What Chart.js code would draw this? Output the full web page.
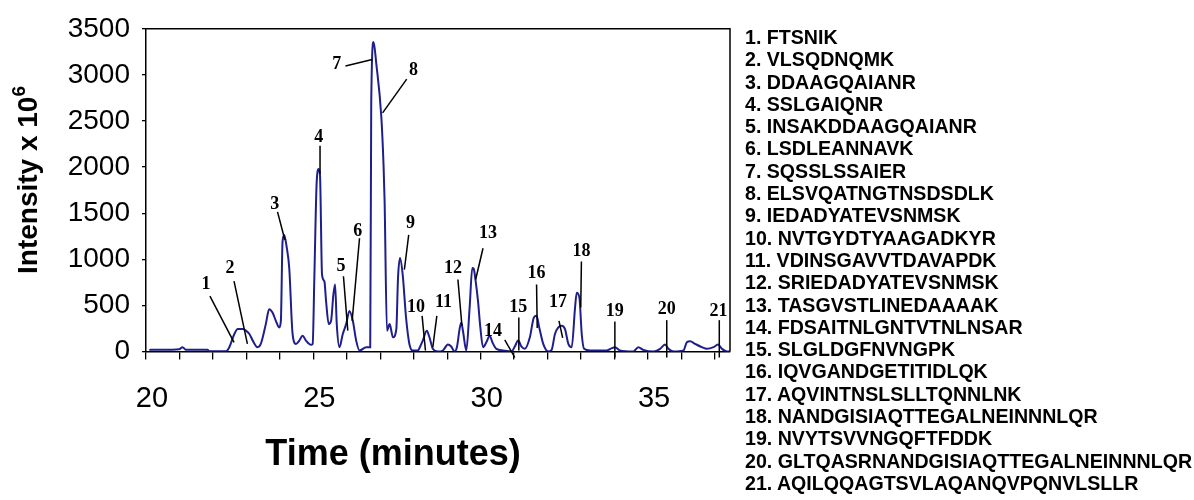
<!DOCTYPE html>
<html>
<head>
<meta charset="utf-8">
<script src="https://cdn.jsdelivr.net/npm/chart.js@4.4.1/dist/chart.umd.min.js"></script>
<style>
  body { margin: 0; background: #fff; }
  #wrap { position: relative; width: 1194px; height: 500px; }
  #wrap canvas { position: absolute; left: 0; top: 0; }
  .ytitle {
    position: absolute; left: 28px; top: 180px;
    transform: translate(-50%, -50%) rotate(-90deg);
    font: bold 28px "Liberation Sans", Arial, sans-serif; white-space: nowrap;
  }
  .ytitle sup { font-size: 19px; vertical-align: 12px; line-height: 0; }
  .xtitle {
    position: absolute; left: 393px; top: 453px;
    transform: translate(-50%, -50%);
    font: bold 36px "Liberation Sans", Arial, sans-serif; white-space: nowrap;
  }
  #peptides {
    position: absolute; left: 745px; top: 26px; margin: 0; padding: 0;
    list-style: none; font: bold 19.6px/22.3px "Liberation Sans", Arial, sans-serif;
    white-space: nowrap;
  }
</style>
</head>
<body>
<div id="wrap">
  <canvas id="chromChart"></canvas>
  <div class="ytitle">Intensity x 10<sup>6</sup></div>
  <div class="xtitle">Time (minutes)</div>
  <ul id="peptides"></ul>
</div>
<script>
// retention time (min) and intensity (x 10^6)
const times = [
  20.1, 20.14, 20.5, 20.99, 21.09, 21.19, 21.84, 21.89, 22.39, 22.49,
  22.64, 22.74, 22.89, 22.99, 23.09, 23.19, 23.33, 23.43, 23.58, 23.68,
  23.78, 23.88, 23.98, 24.03, 24.08, 24.13, 24.2, 24.28, 24.38, 24.48,
  24.58, 24.68, 24.78, 24.93, 24.98, 25.03, 25.1, 25.16, 25.2, 25.26,
  25.33, 25.38, 25.46, 25.53, 25.6, 25.65, 25.7, 25.78, 25.88, 25.98,
  26.08, 26.18, 26.28, 26.38, 26.58, 26.7, 26.73, 26.8, 26.88, 27.03,
  27.1, 27.13, 27.2, 27.28, 27.38, 27.48, 27.53, 27.59, 27.67, 27.77,
  27.87, 27.97, 28.12, 28.2, 28.27, 28.39, 28.47, 28.57, 28.72, 28.87,
  29.02, 29.12, 29.22, 29.29, 29.37, 29.42, 29.47, 29.57, 29.67, 29.75,
  29.79, 29.85, 29.92, 29.99, 30.07, 30.17, 30.27, 30.35, 30.47, 30.67,
  30.92, 31.02, 31.12, 31.22, 31.32, 31.47, 31.59, 31.67, 31.75, 31.87,
  32.02, 32.12, 32.22, 32.32, 32.42, 32.52, 32.62, 32.72, 32.82, 32.87,
  32.95, 33.02, 33.09, 33.27, 33.77, 33.92, 34.01, 34.16, 34.56, 34.71,
  34.86, 35.16, 35.36, 35.51, 35.61, 35.76, 36.06, 36.16, 36.26, 36.41,
  36.61, 36.76, 36.96, 37.09, 37.21, 37.36, 37.45
];
const intensity = [
  15, 18, 18, 25, 47, 20, 18, 3, 3, 47,
  190, 243, 243, 225, 190, 118, 47, 82, 297, 458,
  422, 333, 261, 333, 1192, 1264, 1140, 906, 190, 82,
  118, 172, 118, 72, 82, 798, 1837, 1980, 1908, 834,
  762, 548, 297, 333, 619, 727, 297, 47, 190, 297,
  440, 333, 118, 11, 47, 47, 2696, 3358, 3125, 2553,
  2000, 1622, 225, 297, 154, 243, 798, 1013, 834, 369,
  82, 11, 11, 60, 118, 225, 154, 29, 0, 11,
  75, 54, 0, 47, 243, 315, 225, 11, 476, 906,
  899, 763, 548, 261, 47, 100, 172, 100, 29, 11,
  0, 54, 118, 54, 29, 154, 369, 387, 261, 82,
  0, 18, 190, 261, 279, 243, 82, 47, 476, 637,
  584, 190, 29, 11, 11, 36, 47, 11, 0, 47,
  18, 0, 29, 75, 29, 0, 11, 100, 111, 82,
  47, 29, 47, 75, 29, 0, 0
];

const yTicks = [0, 500, 1000, 1500, 2000, 2500, 3000, 3500];
const xLabelTicks = [20, 25, 30, 35];

const peptides = [
  'FTSNIK', 'VLSQDNQMK', 'DDAAGQAIANR', 'SSLGAIQNR', 'INSAKDDAAGQAIANR',
  'LSDLEANNAVK', 'SQSSLSSAIER', 'ELSVQATNGTNSDSDLK', 'IEDADYATEVSNMSK',
  'NVTGYDTYAAGADKYR', 'VDINSGAVVTDAVAPDK', 'SRIEDADYATEVSNMSK',
  'TASGVSTLINEDAAAAK', 'FDSAITNLGNTVTNLNSAR', 'SLGLDGFNVNGPK',
  'IQVGANDGETITIDLQK', 'AQVINTNSLSLLTQNNLNK', 'NANDGISIAQTTEGALNEINNNLQR',
  'NVYTSVVNGQFTFDDK', 'GLTQASRNANDGISIAQTTEGALNEINNNLQR',
  'AQILQQAGTSVLAQANQVPQNVLSLLR'
];

// peak number labels (data units) and their leader lines
const labelT = [21.79, 22.51, 23.85, 25.16, 25.83, 26.33, 25.70, 27.99, 27.90, 28.07, 28.89,
  29.17, 30.22, 30.37, 31.12, 31.67, 32.31, 33.01, 34.01, 35.56, 37.11];
const labelI = [727, 905, 1600, 2320, 924, 1300, 3118, 3053, 1389, 483, 529,
  905, 1281, 218, 476, 852, 537, 1085, 440, 459, 440];
const leadFromT = [21.91, 22.63, 23.93, 25.20, 25.90, 26.38, 25.96, 27.79, 27.85, 28.25, 28.69,
  29.32, 30.07, 30.72, 31.14, 31.67, 32.34, 33.01, 34.01, 35.56, 37.13];
const leadFromI = [601, 763, 1514, 2231, 816, 1228, 3096, 2954, 1264, 387, 387,
  781, 1120, 126, 368, 727, 333, 977, 325, 340, 340];
const leadToT = [22.63, 23.03, 24.15, 25.20, 26.03, 26.16, 26.76, 27.07, 27.72, 28.35, 28.57,
  29.44, 29.85, 31.02, 31.14, 31.69, 32.45, 32.99, 34.01, 35.56, 37.13];
const leadToI = [100, 83, 1210, 1926, 226, 333, 3168, 2588, 888, 11, 46,
  279, 781, 0, 11, 255, 147, 476, 0, 0, 0];

const list = document.getElementById('peptides');
peptides.forEach((p, i) => {
  const li = document.createElement('li');
  li.textContent = (i + 1) + '. ' + p;
  list.appendChild(li);
});

const frame = {
  id: 'frame',
  afterDatasetsDraw(chart) {
    const { ctx, chartArea: a } = chart;
    ctx.save();
    ctx.strokeStyle = '#000';
    ctx.lineWidth = 1.5;
    ctx.beginPath();
    ctx.moveTo(a.left, a.top);
    ctx.lineTo(a.right, a.top);
    ctx.lineTo(a.right, a.bottom);
    ctx.stroke();
    ctx.restore();
  }
};

const peakLabels = {
  id: 'peakLabels',
  afterDraw(chart) {
    const { ctx } = chart;
    const x = chart.scales.x, y = chart.scales.y;
    ctx.save();
    ctx.strokeStyle = '#000';
    ctx.lineWidth = 1.5;
    for (let i = 0; i < labelT.length; i++) {
      ctx.beginPath();
      ctx.moveTo(x.getPixelForValue(leadFromT[i]), y.getPixelForValue(leadFromI[i]));
      let toY = y.getPixelForValue(leadToI[i]);
      if (leadToI[i] === 0 && i >= 13 && i !== 14) toY += 6;
      ctx.lineTo(x.getPixelForValue(leadToT[i]), toY);
      ctx.stroke();
    }
    ctx.fillStyle = '#000';
    ctx.font = 'bold 18px "Liberation Serif", "Times New Roman", serif';
    ctx.textAlign = 'center';
    ctx.textBaseline = 'middle';
    for (let i = 0; i < labelT.length; i++) {
      ctx.fillText(String(i + 1), x.getPixelForValue(labelT[i]), y.getPixelForValue(labelI[i]));
    }
    ctx.restore();
  }
};

const tickFont = { family: '"Liberation Sans", Arial, sans-serif', size: 29 };

new Chart(document.getElementById('chromChart'), {
  type: 'line',
  data: {
    datasets: [{
      data: times.map((t, i) => ({ x: t, y: intensity[i] })),
      borderColor: '#1e1e8c',
      borderWidth: 2,
      pointRadius: 0,
      cubicInterpolationMode: 'monotone',
      fill: false
    }]
  },
  options: {
    responsive: true,
    maintainAspectRatio: false,
    animation: false,
    layout: { padding: { top: 25, right: 464, left: 0, bottom: 0 } },
    plugins: { legend: { display: false }, tooltip: { enabled: false } },
    scales: {
      x: {
        type: 'linear',
        min: 20,
        max: 37.45,
        afterFit(scale) { scale.height = 148.5; },
        afterBuildTicks(scale) {
          const t = [];
          for (let v = 20; v <= 37; v++) t.push({ value: v });
          scale.ticks = t;
        },
        ticks: {
          autoSkip: false,
          maxRotation: 0,
          color: '#000',
          font: tickFont,
          padding: 22,
          labelOffset: 6,
          callback: v => xLabelTicks.includes(v) ? String(v) : ''
        },
        grid: { drawOnChartArea: false, drawTicks: true, tickLength: 8, color: '#000', lineWidth: 1.3 },
        border: { display: true, color: '#000', width: 1.5 }
      },
      y: {
        min: 0,
        max: 3500,
        afterFit(scale) { scale.width = 146; },
        afterBuildTicks(scale) { scale.ticks = yTicks.map(v => ({ value: v })); },
        ticks: { color: '#000', font: { ...tickFont, size: 28 }, padding: 12, callback: v => String(v) },
        grid: { drawOnChartArea: false, drawTicks: true, tickLength: 4, color: '#000', lineWidth: 1.3 },
        border: { display: true, color: '#000', width: 1.5 }
      }
    }
  },
  plugins: [frame, peakLabels]
});
</script>
</body>
</html>
